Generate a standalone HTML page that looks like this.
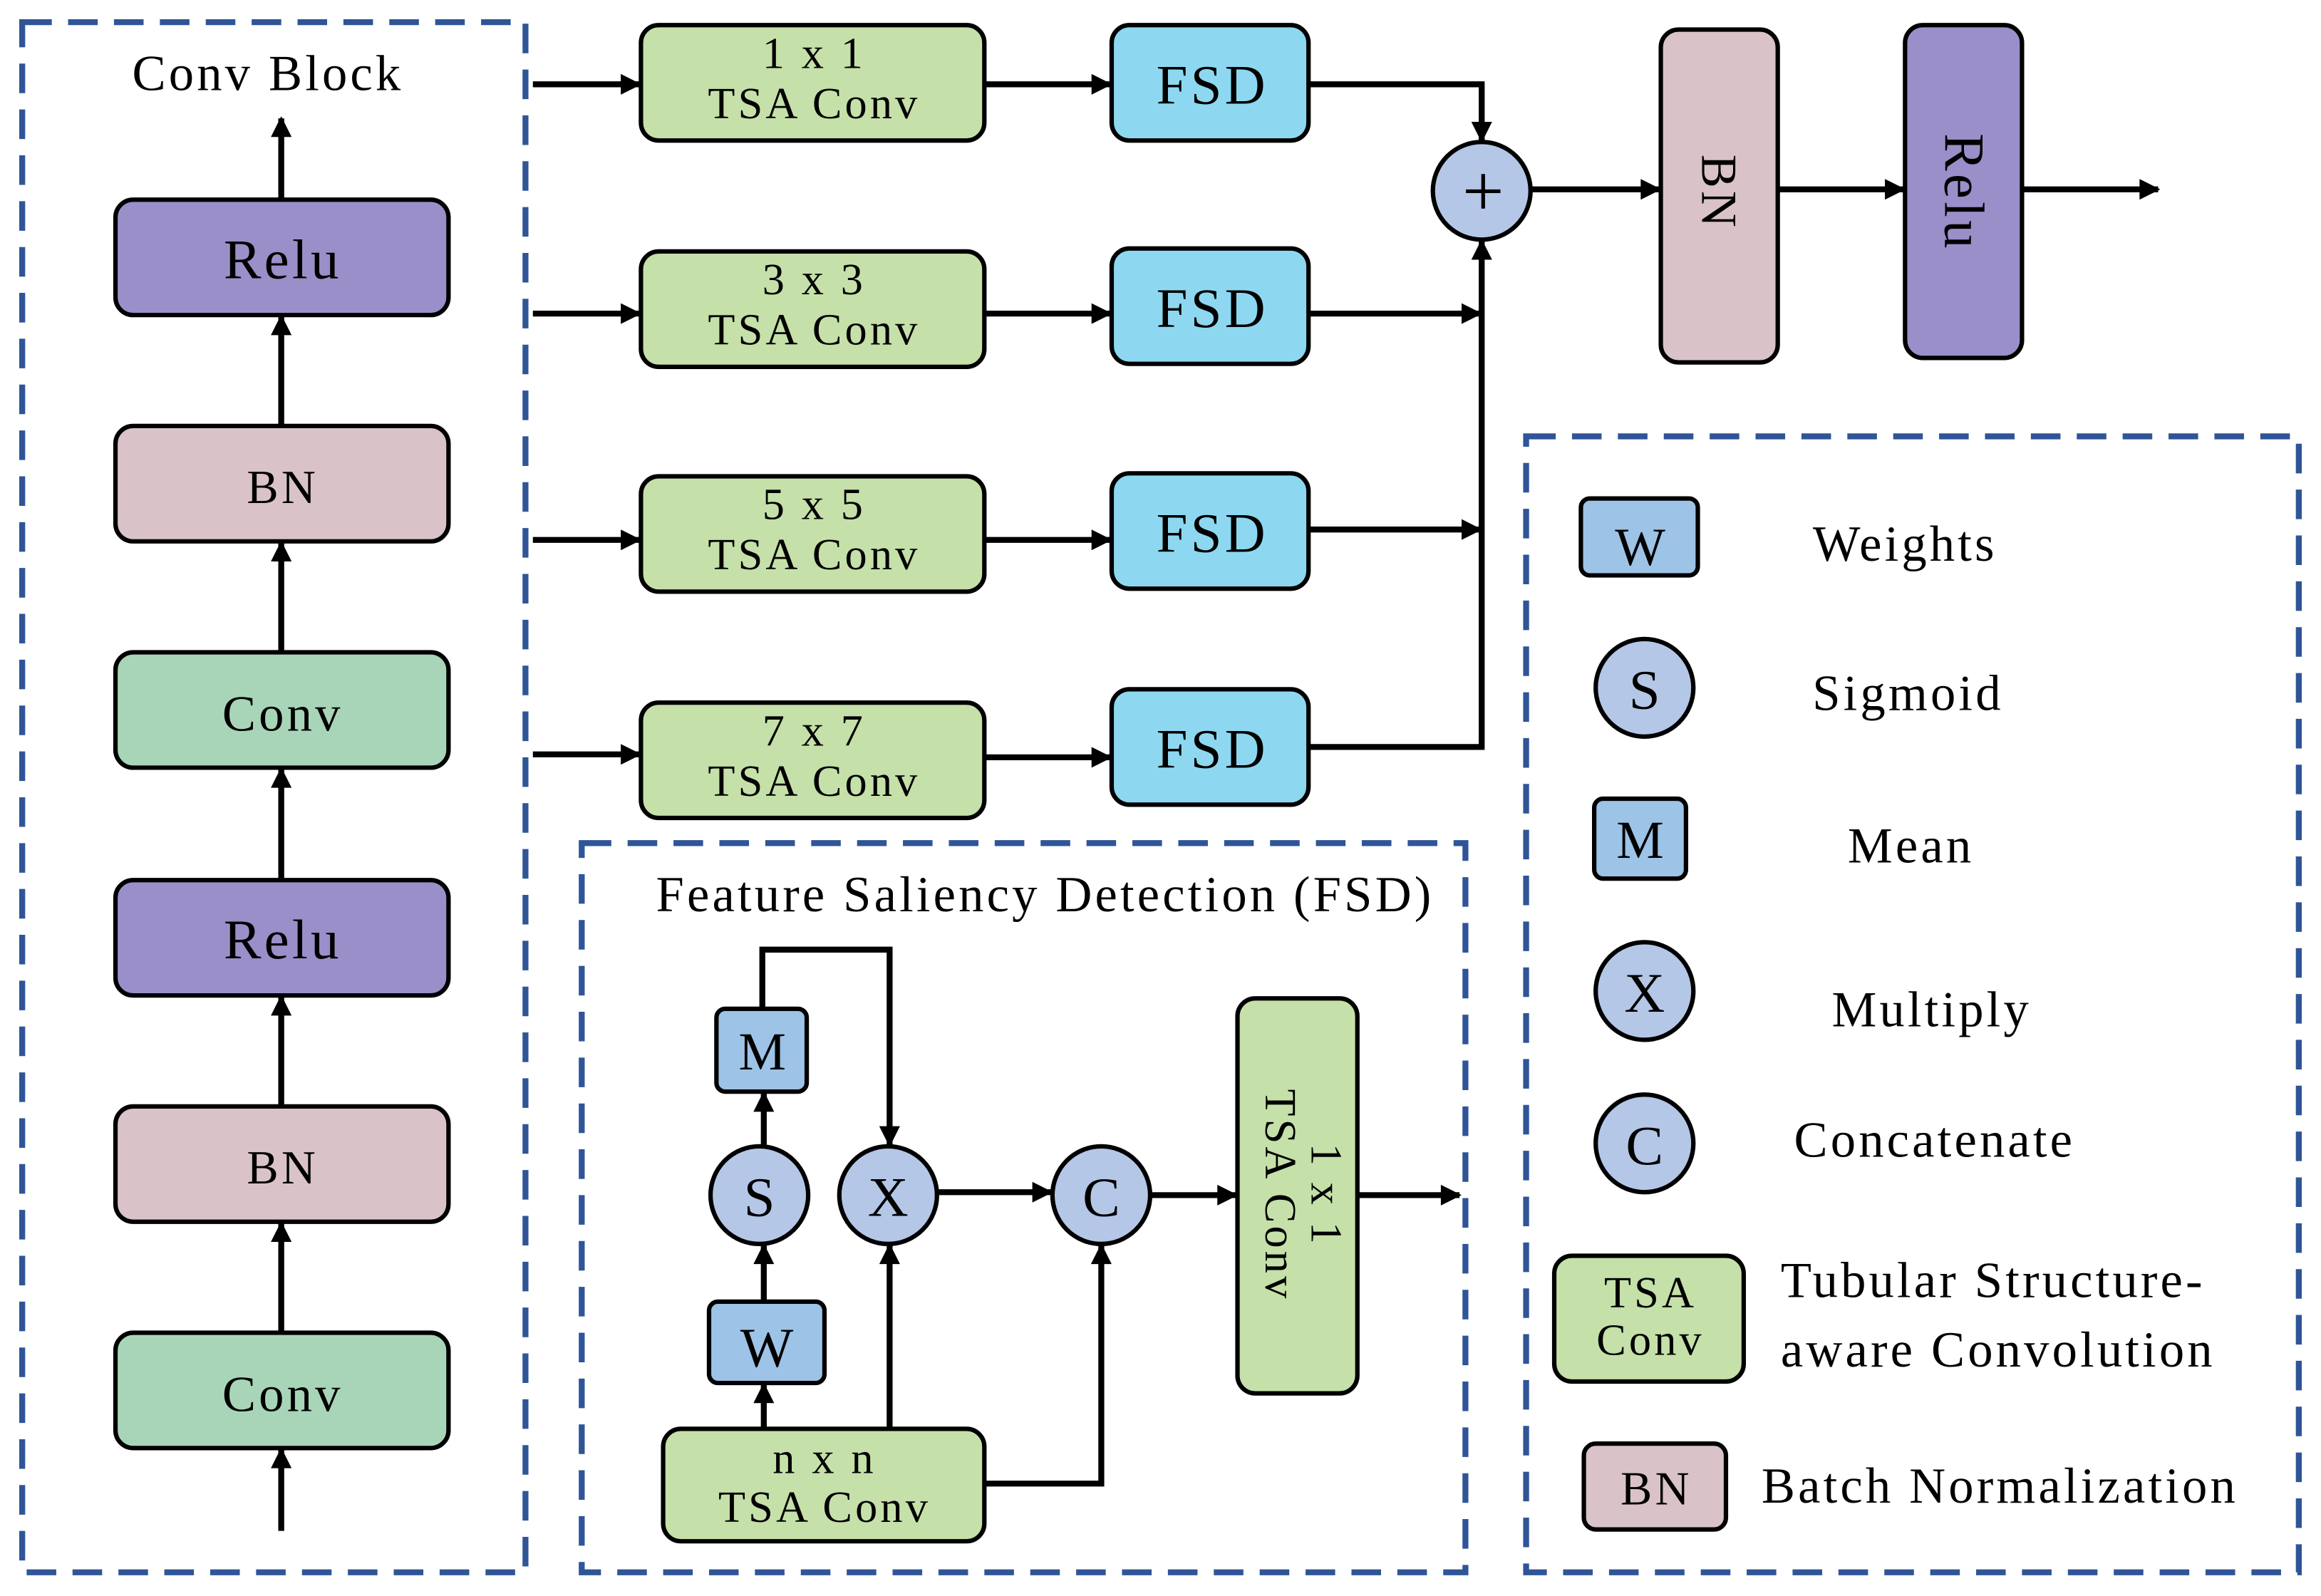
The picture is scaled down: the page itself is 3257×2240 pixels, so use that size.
<!DOCTYPE html>
<html><head><meta charset="utf-8"><style>
html,body{margin:0;padding:0;background:#fff}
svg{display:block}
text{font-family:"Liberation Serif",serif;fill:#000;letter-spacing:2px}
</style></head><body>
<svg width="3257" height="2240" viewBox="0 0 1568 1079" preserveAspectRatio="none" xmlns="http://www.w3.org/2000/svg">
<defs>
<marker id="ah" viewBox="0 0 10 10" refX="9" refY="5" markerWidth="16" markerHeight="14" markerUnits="userSpaceOnUse" orient="auto"><path d="M0,0 L10,5 L0,10 z" fill="#000"/></marker>
</defs>
<g fill="none" stroke="#2F5597" stroke-width="4" stroke-dasharray="20,11">
<rect x="15" y="15" width="340" height="1048"/>
<rect x="393" y="570" width="597" height="493"/>
<rect x="1031" y="295" width="522" height="768"/>
</g>
<g stroke="#000" stroke-width="3">
<rect x="78" y="135" width="225" height="78" rx="12" fill="#9B8FC9"/>
<rect x="78" y="288" width="225" height="78" rx="12" fill="#D9C3C8"/>
<rect x="78" y="441" width="225" height="78" rx="12" fill="#A8D5B8"/>
<rect x="78" y="595" width="225" height="78" rx="12" fill="#9B8FC9"/>
<rect x="78" y="748" width="225" height="78" rx="12" fill="#D9C3C8"/>
<rect x="78" y="901" width="225" height="78" rx="12" fill="#A8D5B8"/>
<rect x="433" y="17" width="232" height="78" rx="12" fill="#C5E0A9"/>
<rect x="433" y="170" width="232" height="78" rx="12" fill="#C5E0A9"/>
<rect x="433" y="322" width="232" height="78" rx="12" fill="#C5E0A9"/>
<rect x="433" y="475" width="232" height="78" rx="12" fill="#C5E0A9"/>
<rect x="751" y="17" width="133" height="78" rx="12" fill="#8DD8F0"/>
<rect x="751" y="168" width="133" height="78" rx="12" fill="#8DD8F0"/>
<rect x="751" y="320" width="133" height="78" rx="12" fill="#8DD8F0"/>
<rect x="751" y="466" width="133" height="78" rx="12" fill="#8DD8F0"/>
<circle cx="1001" cy="129" r="33" fill="#B4C7E7"/>
<rect x="1122" y="20" width="79" height="225" rx="12" fill="#D9C3C8"/>
<rect x="1287" y="17" width="79" height="225" rx="12" fill="#9B8FC9"/>
<rect x="448" y="966" width="217" height="76" rx="12" fill="#C5E0A9"/>
<rect x="479" y="880" width="78" height="55" rx="6" fill="#9DC3E6"/>
<circle cx="513" cy="808" r="33" fill="#B4C7E7"/>
<rect x="484" y="682" width="61" height="56" rx="6" fill="#9DC3E6"/>
<circle cx="600" cy="808" r="33" fill="#B4C7E7"/>
<circle cx="744" cy="808" r="33" fill="#B4C7E7"/>
<rect x="836" y="675" width="81" height="267" rx="12" fill="#C5E0A9"/>
<rect x="1068" y="337" width="79" height="52" rx="6" fill="#9DC3E6"/>
<circle cx="1111" cy="465" r="33" fill="#B4C7E7"/>
<rect x="1077" y="540" width="62" height="54" rx="6" fill="#9DC3E6"/>
<circle cx="1111" cy="670" r="33" fill="#B4C7E7"/>
<circle cx="1111" cy="773" r="33" fill="#B4C7E7"/>
<rect x="1050" y="849" width="128" height="85" rx="12" fill="#C5E0A9"/>
<rect x="1070" y="976" width="96" height="58" rx="8" fill="#D9C3C8"/>
</g>
<g stroke="#000" stroke-width="4" fill="none" marker-end="url(#ah)">
<line x1="190" y1="1035" x2="190" y2="980"/>
<line x1="190" y1="901" x2="190" y2="827"/>
<line x1="190" y1="748" x2="190" y2="674"/>
<line x1="190" y1="595" x2="190" y2="520"/>
<line x1="190" y1="441" x2="190" y2="367"/>
<line x1="190" y1="288" x2="190" y2="214"/>
<line x1="190" y1="135" x2="190" y2="80"/>
<line x1="360" y1="57" x2="432" y2="57"/>
<line x1="360" y1="212" x2="432" y2="212"/>
<line x1="360" y1="365" x2="432" y2="365"/>
<line x1="360" y1="510" x2="432" y2="510"/>
<line x1="665" y1="57" x2="750" y2="57"/>
<line x1="665" y1="212" x2="750" y2="212"/>
<line x1="665" y1="365" x2="750" y2="365"/>
<line x1="665" y1="512" x2="750" y2="512"/>
<polyline points="884,57 1001,57 1001,95"/>
<line x1="884" y1="212" x2="1000" y2="212"/>
<line x1="884" y1="358" x2="1000" y2="358"/>
<polyline points="884,505 1001,505 1001,163"/>
<line x1="1035" y1="128" x2="1121" y2="128"/>
<line x1="1201" y1="128" x2="1286" y2="128"/>
<line x1="1366" y1="128" x2="1458" y2="128"/>
<line x1="516" y1="966" x2="516" y2="936"/>
<line x1="516" y1="880" x2="516" y2="842"/>
<line x1="516" y1="775" x2="516" y2="739"/>
<polyline points="515,682 515,642 601,642 601,774"/>
<line x1="601" y1="966" x2="601" y2="842"/>
<polyline points="665,1003 744,1003 744,842"/>
<line x1="633" y1="806" x2="710" y2="806"/>
<line x1="777" y1="808" x2="835" y2="808"/>
<line x1="917" y1="808" x2="986" y2="808"/>
</g>
<g text-anchor="middle">
<text x="181" y="61" font-size="34">Conv Block</text>
<text x="191" y="188" font-size="38">Relu</text>
<text x="191" y="340" font-size="32">BN</text>
<text x="191" y="494" font-size="34">Conv</text>
<text x="191" y="648" font-size="38">Relu</text>
<text x="191" y="800" font-size="32">BN</text>
<text x="191" y="954" font-size="34">Conv</text>
<text x="550" y="46" font-size="30">1 x 1</text><text x="550" y="80" font-size="30">TSA Conv</text>
<text x="550" y="199" font-size="30">3 x 3</text><text x="550" y="233" font-size="30">TSA Conv</text>
<text x="550" y="351" font-size="30">5 x 5</text><text x="550" y="385" font-size="30">TSA Conv</text>
<text x="550" y="504" font-size="30">7 x 7</text><text x="550" y="538" font-size="30">TSA Conv</text>
<text x="819" y="70" font-size="38">FSD</text>
<text x="819" y="221" font-size="38">FSD</text>
<text x="819" y="373" font-size="38">FSD</text>
<text x="819" y="519" font-size="38">FSD</text>
<text x="1002" y="146" font-size="50" style="letter-spacing:0">+</text>
<text transform="translate(1150,130) rotate(90)" font-size="34">BN</text>
<text transform="translate(1314,130) rotate(90)" font-size="38">Relu</text>
<text x="706" y="616" font-size="34">Feature Saliency Detection (FSD)</text>
<text x="557" y="996" font-size="30">n x n</text><text x="557" y="1029" font-size="30">TSA Conv</text>
<text x="519" y="924" font-size="38">W</text>
<text x="514" y="822" font-size="38">S</text>
<text x="516" y="723" font-size="36">M</text>
<text x="601" y="822" font-size="38">X</text>
<text x="745" y="822" font-size="38">C</text>
<text transform="translate(886,808) rotate(90)" font-size="30">1 x 1</text>
<text transform="translate(855,808) rotate(90)" font-size="30">TSA Conv</text>
<text x="1109" y="382" font-size="36">W</text>
<text x="1287" y="379" font-size="34">Weights</text>
<text x="1112" y="479" font-size="38">S</text>
<text x="1289" y="480" font-size="34">Sigmoid</text>
<text x="1109" y="580" font-size="36">M</text>
<text x="1291" y="583" font-size="34">Mean</text>
<text x="1112" y="684" font-size="38">X</text>
<text x="1305" y="694" font-size="34">Multiply</text>
<text x="1112" y="787" font-size="38">C</text>
<text x="1307" y="782" font-size="34">Concatenate</text>
<text x="1115" y="884" font-size="30">TSA</text><text x="1115" y="916" font-size="30">Conv</text>
<text x="1119" y="1017" font-size="32">BN</text>
</g>
<text x="1203" y="877" font-size="34">Tubular Structure-</text>
<text x="1203" y="924" font-size="34">aware Convolution</text>
<text x="1190" y="1016" font-size="34">Batch Normalization</text>
</svg>
</body></html>
